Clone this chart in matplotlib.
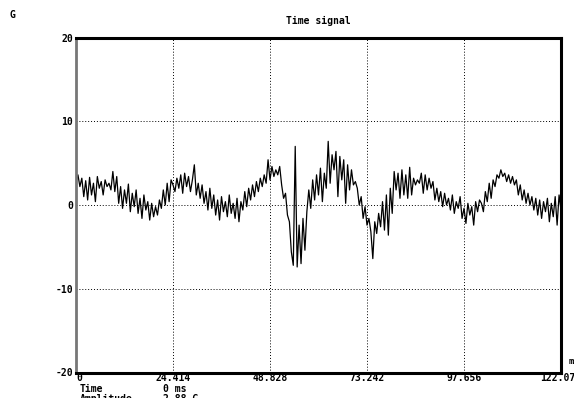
import numpy as np
import matplotlib
matplotlib.use('Agg')
import matplotlib.pyplot as plt

dt = 0.48828
signal = [
    2.8, 3.6, 2.2, 3.2, 1.0, 2.9, 0.6, 3.3, 1.2, 2.6,
    0.4, 3.4, 2.0, 2.8, 1.2, 3.0, 2.2, 2.6, 1.8, 4.0,
    1.6, 3.4, 0.2, 2.2, -0.4, 1.8, 0.2, 2.5, -0.8, 1.4,
    -0.2, 1.8, -1.0, 0.8, -1.6, 1.2, -0.6, 0.4, -1.8, 0.2,
    -1.4, -0.2, -1.2, 0.6, -0.4, 1.8, 0.0, 2.6, 0.4, 3.0,
    2.4, 1.6, 3.2, 2.0, 3.6, 1.4, 3.8, 2.2, 3.4, 1.6,
    3.0, 4.8, 1.2, 2.6, 0.8, 2.4, 0.2, 1.6, -0.6, 2.0,
    -0.4, 1.2, -1.2, 0.6, -1.8, 1.0, -0.8, 0.4, -1.4, 1.2,
    -1.0, 0.2, -1.6, 0.8, -2.0, 0.4, -0.6, 1.6, -0.2, 2.0,
    0.6, 2.4, 1.0, 2.8, 1.6, 3.2, 2.2, 3.6, 2.6, 5.4,
    3.0, 4.6, 3.4, 4.2, 3.6, 4.6, 2.4, 0.8, 1.4, -1.2,
    -2.0, -5.6, -7.2, 7.0, -7.4, -2.4, -7.0, -1.6, -5.4, -0.8,
    1.8, -0.4, 3.0, 0.6, 3.6, 1.2, 4.4, 0.4, 3.8, 2.0,
    7.6, 2.6, 6.0, 4.2, 6.4, 1.0, 5.8, 3.0, 5.4, 0.2,
    4.8, 1.8, 4.2, 2.4, 2.8, 2.0, 0.0, 1.0, -1.6, -0.2,
    -2.4, -1.6, -3.2, -6.4, -2.0, -3.4, -1.0, -2.6, 0.4, -3.0,
    1.2, -3.6, 2.0, -1.0, 4.0, 1.8, 3.8, 0.8, 4.2, 1.2,
    3.6, 0.8, 4.5, 1.2, 3.2, 2.4, 3.0, 2.6, 3.8, 1.4,
    3.6, 1.8, 3.2, 2.0, 2.8, 0.6, 2.0, 0.4, 1.6, -0.2,
    1.4, 0.0, 0.8, -0.6, 1.2, -1.0, 0.4, -0.4, 1.0, -1.6,
    -0.4, -2.2, 0.2, -1.2, -0.2, -2.4, 0.4, -0.8, 0.6, 0.2,
    -0.8, 1.6, 0.4, 2.6, 0.8, 3.0, 2.2, 3.6, 3.2, 4.2,
    3.4, 3.8, 2.8, 3.6, 2.6, 3.4, 2.4, 3.0, 1.2, 2.4,
    0.6, 1.8, 0.2, 1.4, 0.0, 1.0, -0.6, 0.8, -1.2, 0.6,
    -1.6, 0.4, -0.8, 0.8, -2.0, 0.2, -1.4, 1.0, -2.4, 1.2,
    -0.6,
]
time = np.arange(len(signal)) * dt

xticks = [0, 24.414, 48.828, 73.242, 97.656, 122.070]
xtick_labels = ['0', '24.414', '48.828', '73.242', '97.656', '122.070']
yticks = [-20, -10, 0, 10, 20]

W, H = 574, 398
plt.rcParams['font.family'] = ['DejaVu Sans Mono']
plt.rcParams['font.weight'] = 'bold'
fs = 7

fig = plt.figure(figsize=(W / 100, H / 100), dpi=100)
ax = fig.add_axes([76 / W, 1 - 372.5 / H, 485 / W, 335 / H])

ax.plot(time, signal, color='black', lw=0.9)
ax.set_xlim(0, 122.07)
ax.set_ylim(-20, 20)

ax.set_xticks(xticks)
ax.set_xticklabels(xtick_labels, fontsize=fs, fontweight='bold')
ax.set_yticks(yticks)
ax.set_yticklabels([str(v) for v in yticks], fontsize=fs, fontweight='bold')
ax.tick_params(axis='x', length=0, pad=0.5)
ax.tick_params(axis='y', length=0, pad=2)
ax.get_xticklabels()[0].set_ha('left')

ax.grid(True, color='black', lw=0.7, linestyle=(0, (1, 2)))
for s in ['top', 'right', 'bottom']:
    ax.spines[s].set_linewidth(2.2)
ax.spines['left'].set_linewidth(2.0)
ax.spines['left'].set_color('#777777')

fig.text(12 / W, 1 - 15 / H, 'G', fontsize=fs, fontweight='bold', ha='center', va='center')
ax.set_title('Time signal', fontsize=fs, fontweight='bold', pad=10)
fig.text(569 / W, 1 - 362 / H, 'ms', fontsize=6, fontweight='bold', ha='left', va='center')
fig.text(80 / W, 1 - 384.5 / H, 'Time', fontsize=fs, fontweight='bold', ha='left', va='top')
fig.text(163 / W, 1 - 384.5 / H, '0 ms', fontsize=fs, fontweight='bold', ha='left', va='top')
fig.text(80 / W, 1 - 393.5 / H, 'Amplitude', fontsize=fs, fontweight='bold', ha='left', va='top')
fig.text(163 / W, 1 - 393.5 / H, '2.88 G', fontsize=fs, fontweight='bold', ha='left', va='top')

fig.savefig('out.png', dpi=100)
